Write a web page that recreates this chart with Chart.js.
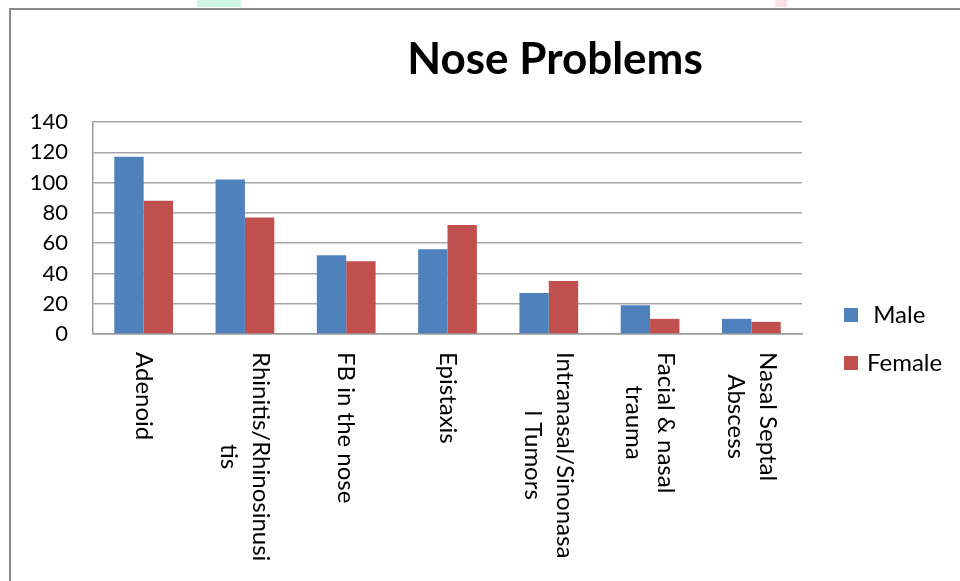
<!DOCTYPE html>
<html>
<head>
<meta charset="utf-8">
<title>Nose Problems</title>
<script src="https://cdn.jsdelivr.net/npm/chart.js@4.4.1/dist/chart.umd.min.js"></script>
<style>
  html, body { margin: 0; padding: 0; background: #fff; overflow: hidden; }
  #wrap { position: relative; width: 960px; height: 581px; }
  #frame { position: absolute; left: 9px; top: 8px; width: 980px; height: 600px;
           border-left: 2px solid #8a8a8a; border-top: 2px solid #8a8a8a; }
  .blot { position: absolute; top: 0; height: 7px; }
  #myChart { position: absolute; left: 0; top: 0; }
</style>
</head>
<body>
<div id="wrap">
  <div class="blot" style="left:197px;width:44px;background:#ccf5e2"></div>
  <div class="blot" style="left:775px;width:12px;background:#fde0e4"></div>
  <div id="frame"></div>
  <canvas id="myChart" width="960" height="581"></canvas>
</div>
<script>
var categories = [
    ['Adenoid'],
    ['Rhinitis/Rhinosinusi', 'tis'],
    ['FB in the nose'],
    ['Epistaxis'],
    ['Intranasal/Sinonasa', 'l Tumors'],
    ['Facial & nasal', 'trauma'],
    ['Nasal Septal', 'Abscess']
];
var maleValues = [117, 102, 52, 56, 27, 19, 10];
var femaleValues = [88, 77, 48, 72, 35, 10, 8];
var yTicks = [0, 20, 40, 60, 80, 100, 120, 140];

var FONT = 'Lato, "Open Sans", sans-serif';

// title, legend and the top-to-bottom category labels, drawn the Excel way
var excelBits = {
    id: 'excelBits',
    afterDraw: function(chart) {
        var ctx = chart.ctx;
        var area = chart.chartArea;
        var xs = chart.scales.x;

        ctx.save();
        ctx.fillStyle = '#000';
        ctx.font = 'bold 44px ' + FONT;
        ctx.textAlign = 'center';
        ctx.textBaseline = 'alphabetic';
        ctx.fillText('Nose Problems', 555, 74);

        // category labels, rotated clockwise, starting under the axis
        ctx.font = '24px ' + FONT;
        var lineH = 32;
        categories.forEach(function(lines, i) {
            var x = xs.getPixelForTick(i);
            var maxW = 0;
            lines.forEach(function(t) { maxW = Math.max(maxW, ctx.measureText(t).width); });
            ctx.save();
            ctx.translate(x, area.bottom + 18);
            ctx.rotate(Math.PI / 2);
            ctx.textAlign = 'center';
            ctx.textBaseline = 'middle';
            lines.forEach(function(t, j) {
                ctx.fillText(t, maxW / 2, (j - (lines.length - 1) / 2) * lineH);
            });
            ctx.restore();
        });

        // legend
        ctx.textAlign = 'left';
        ctx.textBaseline = 'middle';
        chart.data.datasets.forEach(function(ds, i) {
            var cy = 315 + i * 48;
            var bx = area.right + 42;
            ctx.fillStyle = ds.backgroundColor;
            ctx.fillRect(bx, cy - 7, 14, 14);
            ctx.fillStyle = '#000';
            ctx.fillText(ds.label, bx + 23, cy);
        });
        ctx.restore();
    }
};

function load(){
    var ctx = document.getElementById('myChart').getContext('2d');
    var myChart = new Chart(ctx, {
        type: 'bar',
        data: {
            labels: categories,
            datasets: [{
                label: ' Male',
                data: maleValues,
                backgroundColor: '#4f81bd'
            }, {
                label: 'Female',
                data: femaleValues,
                backgroundColor: '#c0504d'
            }]
        },
        options: {
            responsive: false,
            animation: false,
            layout: { padding: { top: 122, right: 158, bottom: 0, left: 0 } },
            plugins: {
                legend: { display: false },
                title: { display: false },
                tooltip: { enabled: false }
            },
            datasets: {
                bar: { categoryPercentage: 0.58, barPercentage: 1 }
            },
            scales: {
                x: {
                    grid: { display: false },
                    border: { display: true, color: '#999', width: 1.5 },
                    ticks: { display: false },
                    afterFit: function(scale) { scale.height = 247; }
                },
                y: {
                    min: yTicks[0],
                    max: yTicks[yTicks.length - 1],
                    afterBuildTicks: function(scale) {
                        scale.ticks = yTicks.map(function(v) { return { value: v }; });
                    },
                    grid: { color: '#a6a6a6', lineWidth: 1.5, drawTicks: false },
                    border: { display: true, color: '#999', width: 1.5 },
                    ticks: {
                        padding: 25,
                        color: '#000',
                        font: { family: FONT, size: 22 }
                    },
                    afterFit: function(scale) { scale.width = 93; }
                }
            }
        },
        plugins: [excelBits]
    });
}

window.onload = load;
</script>
</body>
</html>
